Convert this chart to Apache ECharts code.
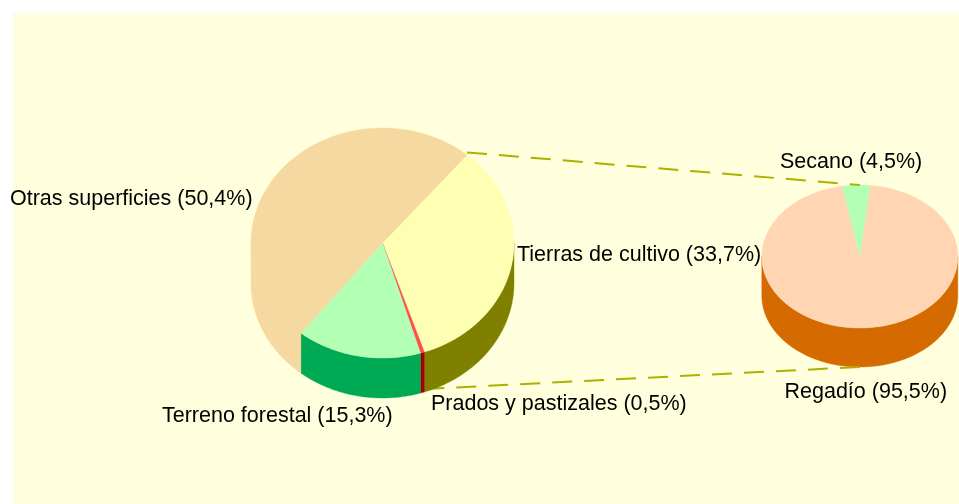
<!DOCTYPE html>
<html>
<head>
<meta charset="utf-8">
<title>Superficies</title>
<script src="https://cdn.jsdelivr.net/npm/echarts@6/dist/echarts.min.js"></script>
<style>
html,body{margin:0;padding:0;background:#fff;}
#chart{width:959px;height:504px;}
</style>
</head>
<body>
<div id="chart"></div>
<script>
// data
var big_categories = ["Tierras de cultivo", "Prados y pastizales", "Terreno forestal", "Otras superficies"];
var big_values = [33.7, 0.5, 15.3, 50.4];
var small_categories = ["Regadío", "Secano"];
var small_values = [95.5, 4.5];

// colours
var big_top_color = ["#FFFFB3", "#FF5050", "#B3FFB3", "#F5D9A0"];
var big_side_color = ["#808000", "#A00000", "#00AA55", "#F5D9A0"];
var small_top_color = ["#FFD5B3", "#B3FFB3"];
var small_side_color = ["#D56A00", "#00AA55"];

// layout
var big_pie = {cx: 382.5, cy: 243, rx: 131.5, ry: 115, depth: 40, start: 40};
var small_pie = {cx: 859.8, cy: 256.5, rx: 98, ry: 71.5, depth: 39, start: 6};
var big_label_pos = [[517, 255.5], [431, 404.5], [162, 416.5], [10, 199.5]];
var small_label_pos = [[784.5, 392.5], [780, 162.5]];

// point on the ellipse, angle clockwise from north
function ellipse_point(pie, angle, drop){
	var rad = angle * Math.PI / 180;
	return [pie.cx + pie.rx * Math.sin(rad), pie.cy - pie.ry * Math.cos(rad) + drop];
}
function arc_points(pie, from, to, drop){
	var points = [];
	var steps = Math.max(2, Math.ceil(Math.abs(to - from)));
	for(var i = 0; i <= steps; i++){
		points.push(ellipse_point(pie, from + (to - from) * i / steps, drop));
	}
	return points;
}
// values to [from, to] angle pairs
function get_slices(values, start){
	var total = 0, slices = [], angle = start;
	for(var i = 0; i < values.length; i++){ total += values[i]; }
	for(var j = 0; j < values.length; j++){
		var sweep = values[j] / total * 360;
		slices.push([angle, angle + sweep]);
		angle += sweep;
	}
	return slices;
}
function top_series(pie, slices, colors, z){
	return {
		type: "custom", coordinateSystem: "none", silent: true, z: z, data: slices,
		renderItem: function(params, api){
			var points = arc_points(pie, api.value(0), api.value(1), 0);
			points.push([pie.cx, pie.cy]);
			var color = colors[params.dataIndex];
			return {type: "polygon", shape: {points: points}, style: {fill: color, stroke: color, lineWidth: 0.4}};
		}
	};
}
function side_series(pie, slices, colors, z){
	return {
		type: "custom", coordinateSystem: "none", silent: true, z: z, data: slices,
		renderItem: function(params, api){
			var from = api.value(0), to = api.value(1);
			var group = {type: "group", children: []};
			// only the front half of the rim shows
			for(var k = 0; k < 2; k++){
				var a = Math.max(from, 90 + 360 * k), b = Math.min(to, 270 + 360 * k);
				if(a >= b){ continue; }
				var points = arc_points(pie, a, b, 0).concat(arc_points(pie, b, a, pie.depth));
				var color = colors[params.dataIndex];
				group.children.push({type: "polygon", shape: {points: points}, style: {fill: color, stroke: color, lineWidth: 0.4}});
			}
			return group;
		}
	};
}
function label_series(names, values, positions, z){
	var rows = [];
	for(var i = 0; i < names.length; i++){
		rows.push([values[i]]);
	}
	return {
		type: "custom", coordinateSystem: "none", silent: true, z: z, data: rows,
		renderItem: function(params, api){
			var i = params.dataIndex;
			var text = names[i] + " (" + api.value(0).toFixed(1).replace(".", ",") + "%)";
			return {type: "text", style: {
				text: text, x: positions[i][0], y: positions[i][1],
				font: "21.5px 'Liberation Sans'", fill: "#000", align: "left", verticalAlign: "middle"
			}};
		}
	};
}

var big_slices = get_slices(big_values, big_pie.start);
var small_slices = get_slices(small_values, small_pie.start);

// dashed lines joining the two pies
var link_rows = [
	[ellipse_point(big_pie, big_pie.start, -2.5), ellipse_point(small_pie, 0, 0)],
	[ellipse_point(big_pie, big_slices[0][1], big_pie.depth - 3), ellipse_point(small_pie, 180, small_pie.depth)]
];
var link_series = {
	type: "custom", coordinateSystem: "none", silent: true, z: 3, data: [[0], [1]],
	renderItem: function(params){
		var row = link_rows[params.dataIndex];
		return {
			type: "line",
			shape: {x1: row[0][0], y1: row[0][1], x2: row[1][0], y2: row[1][1]},
			style: {stroke: "#AFAF00", lineWidth: 2, lineDash: [20, 12]}
		};
	}
};

var chart = echarts.init(document.getElementById("chart"));
chart.setOption({
	animation: false,
	backgroundColor: "#fff",
	graphic: [{type: "rect", z: -10, shape: {x: 13, y: 13, width: 946, height: 491}, style: {fill: "#FFFFDD"}}],
	series: [
		side_series(small_pie, small_slices, small_side_color, 1),
		top_series(small_pie, small_slices, small_top_color, 2),
		link_series,
		side_series(big_pie, big_slices, big_side_color, 4),
		top_series(big_pie, big_slices, big_top_color, 5),
		label_series(big_categories, big_values, big_label_pos, 6),
		label_series(small_categories, small_values, small_label_pos, 6)
	]
});
</script>
</body>
</html>
